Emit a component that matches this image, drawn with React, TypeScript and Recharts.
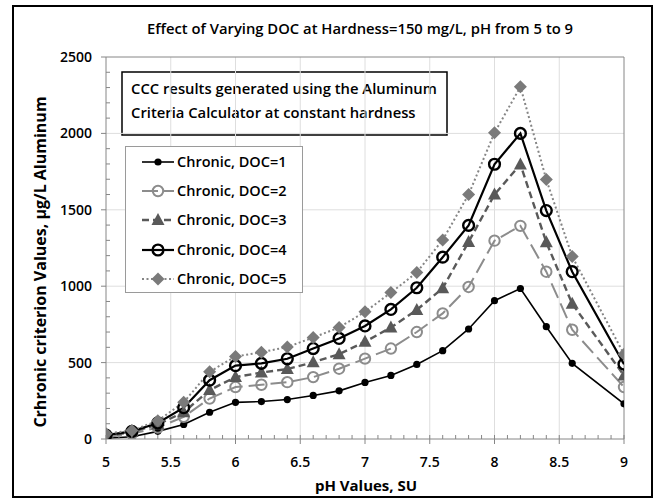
import React from "react";
import {
  LineChart,
  Line,
  XAxis,
  YAxis,
  ReferenceLine,
  Customized,
} from "recharts";

const pH = [5, 5.2, 5.4, 5.6, 5.8, 6, 6.2, 6.4, 6.6, 6.8, 7, 7.2, 7.4, 7.6, 7.8, 8, 8.2, 8.4, 8.6, 9];
const DOC1 = [5, 15, 50, 95, 175, 240, 245, 258, 285, 315, 370, 416, 488, 578, 720, 905, 985, 735, 495, 230];
const DOC2 = [12, 35, 75, 145, 265, 340, 355, 372, 405, 460, 526, 592, 700, 822, 995, 1298, 1395, 1095, 715, 340];
const DOC3 = [20, 45, 95, 175, 320, 405, 435, 458, 502, 555, 636, 730, 845, 987, 1290, 1600, 1797, 1288, 885, 415];
const DOC4 = [25, 50, 105, 205, 385, 480, 495, 525, 592, 658, 740, 848, 990, 1190, 1398, 1798, 2000, 1495, 1095, 490];
const DOC5 = [35, 55, 120, 240, 440, 540, 568, 602, 664, 730, 832, 958, 1090, 1303, 1600, 2004, 2305, 1698, 1195, 555];

const xTicks = [
  5, 5.1, 5.2, 5.3, 5.4, 5.5, 5.6, 5.7, 5.8, 5.9, 6, 6.1, 6.2, 6.3, 6.4, 6.5, 6.6, 6.7, 6.8, 6.9, 7,
  7.1, 7.2, 7.3, 7.4, 7.5, 7.6, 7.7, 7.8, 7.9, 8, 8.1, 8.2, 8.3, 8.4, 8.5, 8.6, 8.7, 8.8, 8.9, 9,
];
const yTicks = [
  0, 100, 200, 300, 400, 500, 600, 700, 800, 900, 1000, 1100, 1200, 1300, 1400, 1500, 1600, 1700,
  1800, 1900, 2000, 2100, 2200, 2300, 2400, 2500,
];
const xGrid = [5.5, 6, 6.5, 7, 7.5, 8, 8.5];
const yGrid = [500, 1000, 1500, 2000];

const seriesNames = ["Chronic, DOC=1", "Chronic, DOC=2", "Chronic, DOC=3", "Chronic, DOC=4", "Chronic, DOC=5"];
const seriesValues = [DOC1, DOC2, DOC3, DOC4, DOC5];
const seriesKeys = ["doc1", "doc2", "doc3", "doc4", "doc5"];

const data = pH.map((p, i) => {
  const row: any = { pH: p };
  seriesKeys.forEach((k, j) => (row[k] = seriesValues[j][i]));
  return row;
});

const FONT = "'Open Sans', 'DejaVu Sans', sans-serif";
const AXIS = "#868686";

type Style = { color: string; width: number; dash?: string; marker: string };
const styles: Style[] = [
  { color: "#000000", width: 1.6, marker: "dot" },
  { color: "#8c8c8c", width: 2, dash: "16 6", marker: "ocircleGray" },
  { color: "#595959", width: 2.4, dash: "7 4", marker: "triangle" },
  { color: "#000000", width: 2.2, marker: "ocircleBlack" },
  { color: "#858585", width: 2, dash: "2 2.5", marker: "diamond" },
];

function Marker({ kind, cx, cy }: { kind: string; cx: number; cy: number }) {
  if (cx == null || cy == null) return null;
  switch (kind) {
    case "dot":
      return <circle cx={cx} cy={cy} r={3.6} fill="#000" />;
    case "ocircleGray":
      return <circle cx={cx} cy={cy} r={5.2} fill="none" stroke="#8c8c8c" strokeWidth={2} />;
    case "ocircleBlack":
      return <circle cx={cx} cy={cy} r={5.4} fill="none" stroke="#000" strokeWidth={2.4} />;
    case "triangle":
      return (
        <polygon
          points={`${cx},${cy - 7} ${cx + 6.5},${cy + 5} ${cx - 6.5},${cy + 5}`}
          fill="#595959"
        />
      );
    case "diamond":
      return (
        <polygon
          points={`${cx},${cy - 6.5} ${cx + 6.5},${cy} ${cx},${cy + 6.5} ${cx - 6.5},${cy}`}
          fill="#7a7a7a"
        />
      );
  }
  return null;
}

const isMajorX = (v: number) => Math.abs(v * 2 - Math.round(v * 2)) < 1e-6;

function XTick(props: any) {
  const { x, y, payload } = props;
  const v = payload.value;
  if (isMajorX(v)) {
    return (
      <g>
        <line x1={x} x2={x} y1={y - 4} y2={y + 5} stroke={AXIS} strokeWidth={1} />
        <text
          x={x}
          y={y + 28}
          textAnchor="middle"
          fontFamily={FONT}
          fontSize={14}
          fontWeight={600}
          fill="#000"
        >
          {String(v)}
        </text>
      </g>
    );
  }
  return <line x1={x} x2={x} y1={y - 4} y2={y} stroke={AXIS} strokeWidth={1} />;
}

function YTick(props: any) {
  const { x, y, payload } = props;
  const v = payload.value;
  if (v % 500 === 0) {
    return (
      <g>
        <line x1={x - 5} x2={x} y1={y} y2={y} stroke={AXIS} strokeWidth={1} />
        <text
          x={x - 14}
          y={y + 5}
          textAnchor="end"
          fontFamily={FONT}
          fontSize={14}
          fontWeight={600}
          fill="#000"
        >
          {String(v)}
        </text>
      </g>
    );
  }
  return <line x1={x} x2={x + 4} y1={y} y2={y} stroke={AXIS} strokeWidth={1} />;
}

function LegendBox() {
  return (
    <div
      style={{
        position: "absolute",
        left: 125,
        top: 146,
        width: 178,
        height: 147,
        boxSizing: "border-box",
        border: "1px solid #9a9a9a",
        background: "#fff",
        paddingTop: 0,
      }}
    >
      {seriesNames.map((name, i) => {
        const s = styles[i];
        return (
          <div key={name} style={{ display: "flex", alignItems: "center", height: 29.3, marginLeft: 15 }}>
            <svg width={36} height={20} style={{ display: "block" }}>
              <line
                x1={1}
                x2={33}
                y1={10}
                y2={10}
                stroke={s.color}
                strokeWidth={s.width}
                strokeDasharray={s.dash}
              />
              <Marker kind={s.marker} cx={17} cy={10} />
            </svg>
            <span
              style={{
                fontFamily: FONT,
                fontSize: 14.5,
                fontWeight: 600,
                color: "#000",
                whiteSpace: "nowrap",
                lineHeight: "20px",
              }}
            >
              {name}
            </span>
          </div>
        );
      })}
    </div>
  );
}

function Decorations() {
  return (
    <g>
      <text
        x={360}
        y={34}
        textAnchor="middle"
        fontFamily={FONT}
        fontSize={14.8}
        fontWeight={600}
        fill="#000"
      >
        Effect of Varying DOC at Hardness=150 mg/L, pH  from 5 to 9
      </text>
      <text
        x={366}
        y={491}
        textAnchor="middle"
        fontFamily={FONT}
        fontSize={15}
        fontWeight={700}
        fill="#000"
      >
        pH Values, SU
      </text>
      <text
        x={40}
        y={262}
        transform="rotate(-90 40 262)"
        textAnchor="middle"
        dominantBaseline="central"
        fontFamily={FONT}
        fontSize={16}
        fontWeight={700}
        fill="#000"
      >
        Crhronic criterion Values, µg/L Aluminum
      </text>
      <rect x={122} y={72} width={325} height={63} fill="#fff" stroke="#000" strokeWidth={1.5} />
      <text x={131} y={94} fontFamily={FONT} fontSize={14.8} fontWeight={600} fill="#000">
        CCC results generated using the Aluminum
      </text>
      <text x={131} y={118} fontFamily={FONT} fontSize={14.8} fontWeight={600} fill="#000">
        Criteria Calculator at constant hardness
      </text>
    </g>
  );
}

export default function App() {
  return (
    <div
      style={{
        position: "absolute",
        left: 0,
        top: 0,
        width: 657,
        height: 503,
        background: "#fff",
      }}
    >
      <div
        style={{
          position: "absolute",
          left: 12,
          top: 5,
          width: 641,
          height: 493,
          boxSizing: "border-box",
          border: "2px solid #000",
        }}
      />
      <LineChart
        width={657}
        height={503}
        data={data}
        margin={{ top: 57, right: 33, bottom: 0, left: 0 }}
        style={{ position: "absolute", left: 0, top: 0 }}
      >
        {xGrid.map((v) => (
          <ReferenceLine key={"gx" + v} x={v} stroke="#dedede" strokeWidth={1} />
        ))}
        {yGrid.map((v) => (
          <ReferenceLine key={"gy" + v} y={v} stroke="#dedede" strokeWidth={1} />
        ))}
        <ReferenceLine x={9} stroke={AXIS} strokeWidth={1} />
        <ReferenceLine y={2500} stroke={AXIS} strokeWidth={1} />
        <XAxis
          type="number"
          dataKey="pH"
          domain={[5, 9]}
          ticks={xTicks}
          interval={0}
          height={64}
          tickSize={0}
          tickMargin={0}
          tickLine={false}
          tick={<XTick />}
          stroke={AXIS}
          allowDataOverflow
        />
        <YAxis
          type="number"
          domain={[0, 2500]}
          ticks={yTicks}
          interval={0}
          width={106}
          tickSize={0}
          tickMargin={0}
          tickLine={false}
          tick={<YTick />}
          stroke={AXIS}
          allowDataOverflow
        />
        {seriesKeys.map((k, i) => {
          const s = styles[i];
          return (
            <Line
              key={k}
              type="linear"
              dataKey={k}
              name={seriesNames[i]}
              stroke={s.color}
              strokeWidth={s.width}
              strokeDasharray={s.dash}
              isAnimationActive={false}
              dot={(p: any) => <Marker key={k + p.index} kind={s.marker} cx={p.cx} cy={p.cy} />}
              activeDot={false}
            />
          );
        })}
        <Customized component={<Decorations />} />
      </LineChart>
      <LegendBox />
    </div>
  );
}
